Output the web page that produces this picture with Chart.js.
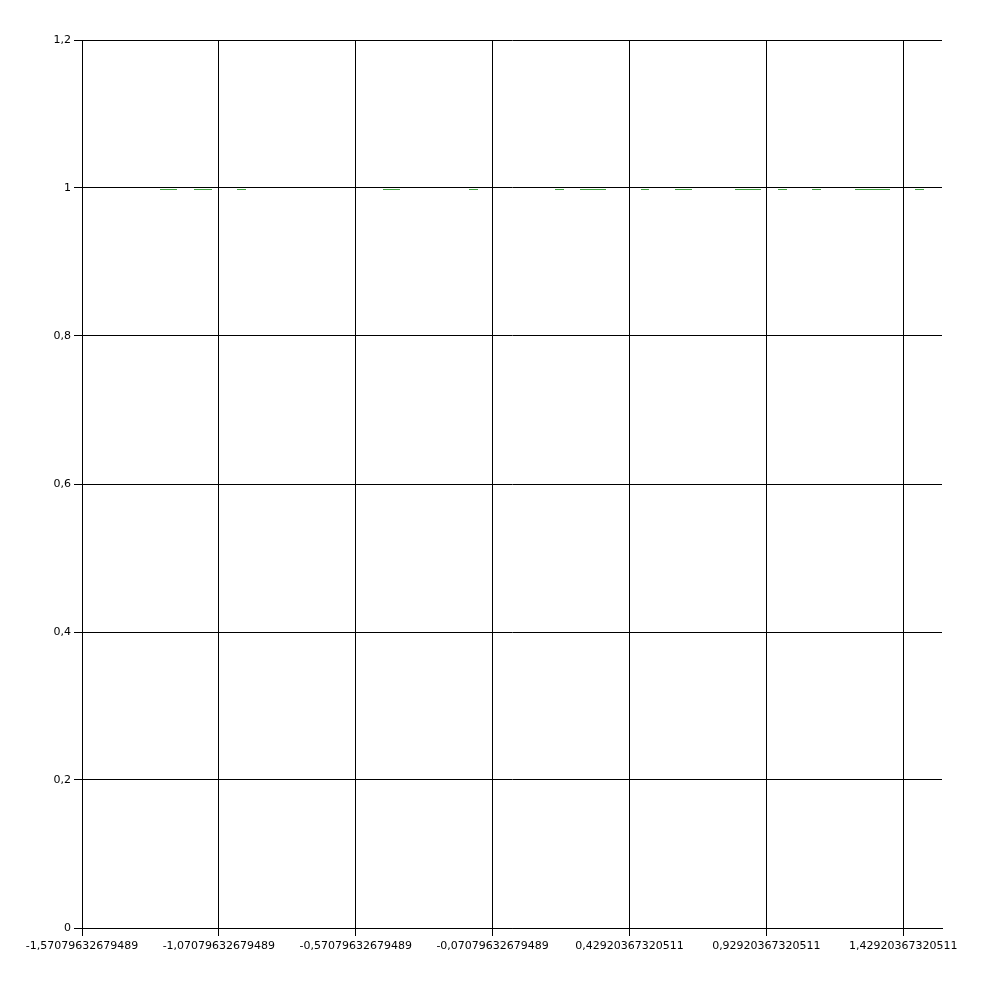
<!DOCTYPE html>
<html>
<head>
<meta charset="utf-8">
<script src="https://cdn.jsdelivr.net/npm/chart.js@4/dist/chart.umd.min.js"></script>
<style>
html,body{margin:0;padding:0;background:#fff;}
#wrap{width:1000px;height:1000px;}
</style>
</head>
<body>
<div id="wrap"><canvas id="c" width="1000" height="1000"></canvas></div>
<script>
// x tick positions and their labels (as printed)
const xTickValues = [-1.57079632679489, -1.07079632679489, -0.57079632679489, -0.07079632679489, 0.42920367320511, 0.92920367320511, 1.42920367320511];
const xTickLabels = ["-1,57079632679489", "-1,07079632679489", "-0,57079632679489", "-0,07079632679489", "0,42920367320511", "0,92920367320511", "1,42920367320511"];
const yTickValues = [0, 0.2, 0.4, 0.6, 0.8, 1, 1.2];
const yTickLabels = ["0", "0,2", "0,4", "0,6", "0,8", "1", "1,2"];

// visible pieces of the series (x values), y ~ 1; null = break
const seriesX = [-1.2859, -1.2238, null, -1.1617, -1.0959, null, -1.0046, -0.9717, null,
  -0.4713, -0.4092, null, -0.1571, -0.1242, null, 0.1571, 0.1900, null, 0.2484, 0.3434, null,
  0.4712, 0.5004, null, 0.5954, 0.6575, null, 0.8146, 0.9096, null, 0.9718, 1.0046, null,
  1.0960, 1.1288, null, 1.2530, 1.3809, null, 1.4722, 1.5050];
const seriesY = [1, 1, null, 1, 1, null, 1, 1, null,
  1, 1, null, 1, 1, null, 1, 1, null, 1, 1, null,
  1, 1, null, 1, 1, null, 1, 1, null, 1, 1, null,
  1, 1, null, 1, 1, null, 1, 1];

const pts = seriesX.map((x, i) => x === null ? {x: (seriesX[i-1]+seriesX[i+1])/2, y: null} : {x: x, y: seriesY[i]});

// draw the series just beneath the grid line it sits on (as in the original rendering)
const nudge = {
  id: 'nudge',
  beforeDatasetsDraw(chart) { chart.ctx.save(); chart.ctx.translate(0, 1.5); },
  afterDatasetsDraw(chart) { chart.ctx.restore(); }
};

const fnt = {family: "DejaVu Sans", size: 11};
new Chart(document.getElementById('c'), {
  type: 'line',
  data: {datasets: [{
    data: pts,
    borderColor: '#3f9f3f',
    borderWidth: 1,
    pointRadius: 0,
    spanGaps: false,
    fill: false
  }]},
  options: {
    responsive: false,
    animation: false,
    devicePixelRatio: 1,
    layout: {padding: {left: 0, top: 40, right: 58, bottom: 0}},
    plugins: {legend: {display: false}, tooltip: {enabled: false}},
    scales: {
      x: {
        type: 'linear',
        min: -Math.PI / 2,
        max: Math.PI / 2,
        afterBuildTicks: s => { s.ticks = xTickValues.map(v => ({value: v})); },
        afterFit: s => { s.height = 72; },
        ticks: {
          color: '#000', font: fnt, padding: 4, maxRotation: 0, autoSkip: false,
          callback: (v, i) => xTickLabels[i]
        },
        grid: {color: '#000', lineWidth: 1, tickLength: 8, drawOnChartArea: true},
        border: {display: true, color: '#000', width: 1}
      },
      y: {
        type: 'linear',
        min: 0,
        max: 1.2,
        afterBuildTicks: s => { s.ticks = yTickValues.map(v => ({value: v})); },
        afterFit: s => { s.width = 82; },
        ticks: {
          color: '#000', font: fnt, padding: 3, autoSkip: false,
          callback: (v, i) => yTickLabels[i]
        },
        grid: {color: '#000', lineWidth: 1, tickLength: 8},
        border: {display: true, color: '#000', width: 1}
      }
    }
  },
  plugins: [nudge]
});
</script>
</body>
</html>
